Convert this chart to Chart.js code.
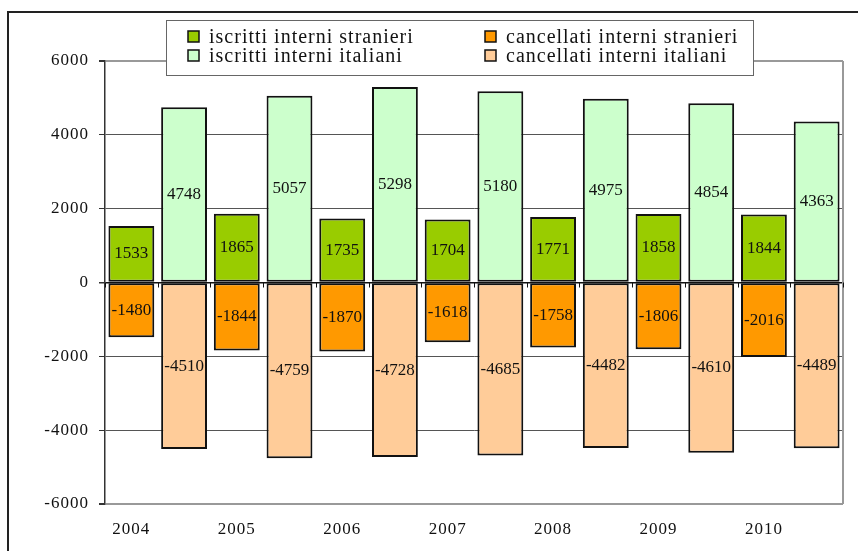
<!DOCTYPE html>
<html>
<head>
<meta charset="utf-8">
<script src="https://cdn.jsdelivr.net/npm/chart.js@4"></script>
<style>
  html, body { margin: 0; padding: 0; background: #fff; overflow: hidden; }
  #wrap { width: 858px; height: 551px; position: relative; }
</style>
</head>
<body>
<div id="wrap"><canvas id="chart" width="858" height="551"></canvas></div>
<script>
const years = ['2004', '2005', '2006', '2007', '2008', '2009', '2010'];
const iscrittiStranieri = [1533, 1865, 1735, 1704, 1771, 1858, 1844];
const cancellatiStranieri = [-1480, -1844, -1870, -1618, -1758, -1806, -2016];
const iscrittiItaliani = [4748, 5057, 5298, 5180, 4975, 4854, 4363];
const cancellatiItaliani = [-4510, -4759, -4728, -4685, -4482, -4610, -4489];

const FONT = '"Liberation Serif", "Times New Roman", serif';

// two slots per year: foreigners on the left, italians on the right
const labels = years.flatMap(y => [y, '']);
const leftSlot = arr => arr.flatMap(v => [v, null]);
const rightSlot = arr => arr.flatMap(v => [null, v]);

const datasets = [
  { label: 'iscritti interni stranieri', data: leftSlot(iscrittiStranieri), backgroundColor: '#99cc00' },
  { label: 'cancellati interni stranieri', data: leftSlot(cancellatiStranieri), backgroundColor: '#ff9900' },
  { label: 'iscritti interni italiani', data: rightSlot(iscrittiItaliani), backgroundColor: '#ccffcc' },
  { label: 'cancellati interni italiani', data: rightSlot(cancellatiItaliani), backgroundColor: '#ffcc99' }
].map(ds => ({
  ...ds,
  borderColor: '#111',
  borderWidth: 2,
  borderSkipped: false,
  categoryPercentage: 1,
  barPercentage: 0.87
}));

const framePlugin = {
  id: 'frame',
  beforeDraw(chart) {
    const ctx = chart.ctx;
    // axis labels are drawn a little wider, like the old office charts
    ctx.letterSpacing = '1px';
    ctx.save();
    ctx.fillStyle = '#fff';
    ctx.fillRect(0, 0, chart.width, chart.height);
    ctx.strokeStyle = '#222';
    ctx.lineWidth = 2;
    ctx.beginPath();
    ctx.moveTo(8, chart.height);
    ctx.lineTo(8, 12);
    ctx.lineTo(chart.width, 12);
    ctx.stroke();
    ctx.restore();
  },
  beforeDatasetsDraw(chart) {
    const ctx = chart.ctx;
    const area = chart.chartArea;
    const x = chart.scales.x;
    const y0 = chart.scales.y.getPixelForValue(0);
    const step = x.getPixelForValue(1) - x.getPixelForValue(0);
    ctx.save();
    // right border of the plot
    ctx.strokeStyle = '#999';
    ctx.lineWidth = 2;
    ctx.beginPath();
    ctx.moveTo(area.right, area.top);
    ctx.lineTo(area.right, area.bottom);
    ctx.stroke();
    // small ticks under the zero line between categories
    ctx.strokeStyle = '#111';
    ctx.lineWidth = 1;
    ctx.beginPath();
    for (let i = 0; i <= labels.length; i++) {
      const px = Math.round(x.getPixelForValue(i) - step / 2) + 0.5;
      ctx.moveTo(px, y0);
      ctx.lineTo(px, y0 + 5);
    }
    ctx.stroke();
    ctx.restore();
  },
  afterDatasetsDraw(chart) {
    const ctx = chart.ctx;
    ctx.save();
    ctx.letterSpacing = '0px';
    ctx.font = '17px ' + FONT;
    ctx.fillStyle = '#111';
    ctx.textAlign = 'center';
    ctx.textBaseline = 'middle';
    chart.data.datasets.forEach((ds, di) => {
      chart.getDatasetMeta(di).data.forEach((bar, i) => {
        const v = ds.data[i];
        if (v === null) return;
        ctx.fillText(String(v), bar.x, (bar.y + bar.base) / 2);
      });
    });
    ctx.restore();
  },
  afterDraw(chart) {
    const ctx = chart.ctx;
    ctx.save();
    // legend box, two columns
    ctx.fillStyle = '#fff';
    ctx.fillRect(166, 20, 587, 55);
    ctx.strokeStyle = '#666';
    ctx.lineWidth = 1;
    ctx.strokeRect(166.5, 20.5, 587, 55);
    const cols = [188, 485];
    const rows = [36.5, 55.5];
    ctx.font = '20px ' + FONT;
    ctx.letterSpacing = '1px';
    ctx.textBaseline = 'middle';
    ctx.textAlign = 'left';
    chart.data.datasets.forEach((ds, i) => {
      const cx = cols[i % 2];
      const cy = rows[Math.floor(i / 2)];
      ctx.fillStyle = ds.backgroundColor;
      ctx.fillRect(cx, cy - 5.5, 11, 11);
      ctx.strokeStyle = '#111';
      ctx.lineWidth = 1.5;
      ctx.strokeRect(cx, cy - 5.5, 11, 11);
      ctx.fillStyle = '#111';
      ctx.fillText(ds.label, cx + 21, cy + 1);
    });
    ctx.restore();
  }
};

new Chart(document.getElementById('chart'), {
  type: 'bar',
  data: { labels: labels, datasets: datasets },
  plugins: [framePlugin],
  options: {
    responsive: false,
    animation: false,
    layout: { padding: { top: 61, right: 15, left: 0, bottom: 0 } },
    plugins: {
      legend: { display: false },
      title: { display: false },
      tooltip: { enabled: false }
    },
    scales: {
      x: {
        stacked: true,
        grid: { display: false },
        border: { display: false },
        ticks: {
          autoSkip: false,
          maxRotation: 0,
          padding: 7,
          color: '#111',
          font: { family: FONT, size: 17 }
        },
        afterFit(scale) { scale.height = 47; }
      },
      y: {
        stacked: true,
        min: -6000,
        max: 6000,
        ticks: {
          stepSize: 2000,
          padding: 10,
          color: '#111',
          font: { family: FONT, size: 17 },
          callback: v => String(v)
        },
        grid: {
          color: c => {
            const v = c.tick && c.tick.value;
            if (v === 0) return '#111';
            if (v === 6000 || v === -6000) return '#999';
            return '#555';
          },
          lineWidth: c => {
            const v = c.tick && c.tick.value;
            if (v === 0) return 1.5;
            if (v === 6000 || v === -6000) return 2;
            return 1;
          },
          tickColor: '#333',
          tickLength: 6
        },
        border: { color: '#333', width: 1.5 },
        afterFit(scale) { scale.width = 105; }
      }
    }
  }
});
</script>
</body>
</html>
